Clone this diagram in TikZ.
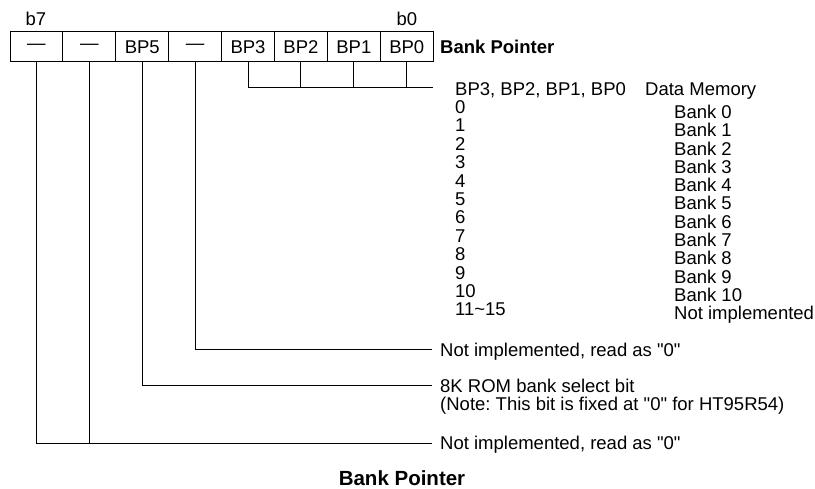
\documentclass[tikz,border=0pt]{standalone}
\usepackage{fontspec}
\setmainfont{Liberation Sans}
\frenchspacing
\newcommand{\qzero}{\textquotedbl 0\textquotedbl}
\begin{document}
\begin{tikzpicture}[x=1pt,y=-1pt,
  cell/.style={draw,line width=1pt,minimum width=52.9pt,minimum height=30pt,inner sep=0pt,font=\fontsize{18.5}{20}\selectfont},
  lbl/.style={inner sep=0pt,anchor=base west,font=\fontsize{18.5}{18}\selectfont},
  wire/.style={line width=1pt}]
\useasboundingbox (0,0) rectangle (815,489);
\foreach \i/\t in {7/—,6/—,5/BP5,4/—,3/BP3,2/BP2,1/BP1,0/BP0}{
  \node[cell] (c\i) at ({10+52.9*(7-\i)+26.45},47) {\t};
}
\node[lbl,anchor=base] (b7) at (36,25.5) {b7};
\node[lbl,anchor=base] (b0) at (407,25.5) {b0};
\node[lbl,font=\bfseries\fontsize{18.5}{20}\selectfont] (bp) at (440,53.6) {Bank Pointer};
\coordinate (j) at (433,88);
\draw[wire] (c3.south) |- (j);
\foreach \i in {2,1,0}{\draw[wire] (c\i.south) -- (c\i.south |- j);}
\node[lbl] (hd1) at (455,95.5) {BP3, BP2, BP1, BP0};
\node[lbl] (hd2) at (645,95.5) {Data Memory};
\foreach \n/\b [count=\k from 0] in {0/Bank 0,1/Bank 1,2/Bank 2,3/Bank 3,4/Bank 4,5/Bank 5,6/Bank 6,7/Bank 7,8/Bank 8,9/Bank 9,10/Bank 10,11\textasciitilde15/Not implemented}{
  \node[lbl] (n\k) at (455,{113.5+18.4*\k}) {\n};
  \node[lbl] (m\k) at (674,{118.5+18.3*\k}) {\b};
}
\node[lbl] (t4) at (440,356.5) {Not implemented, read as \qzero};
\node[lbl] (t5) at (440,392.5) {8K ROM bank select bit};
\node[lbl] (t5b) at (440,410.5) {(Note: This bit is fixed at \qzero{} for HT95R54)};
\node[lbl] (t7) at (440,449.5) {Not implemented, read as \qzero};
\coordinate (e4) at (432,350);
\coordinate (e5) at (432,386);
\coordinate (e7) at (432,443);
\draw[wire] (c4.south) |- (e4);
\draw[wire] (c5.south) |- (e5);
\draw[wire] (c7.south) |- (e7);
\draw[wire] (c6.south) -- (c6.south |- e7);
\node[lbl,anchor=base,font=\bfseries\fontsize{20.5}{22}\selectfont] (cap) at (402,485) {Bank Pointer};
\end{tikzpicture}
\end{document}
